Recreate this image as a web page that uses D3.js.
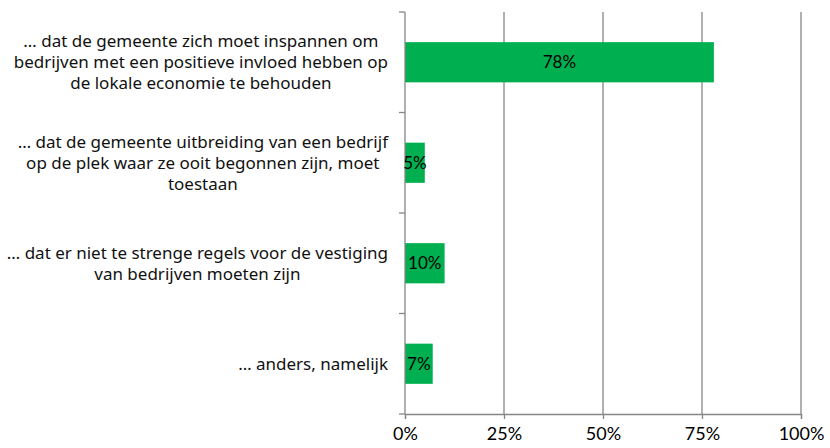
<!DOCTYPE html>
<html><head><meta charset="utf-8">
<script src="https://cdn.jsdelivr.net/npm/d3@7"></script>
<style>body{margin:0;background:#fff}svg{display:block}</style>
</head><body>
<script>
const categories = [
  "… dat de gemeente zich moet inspannen om\nbedrijven met een positieve invloed hebben op\nde lokale economie te behouden",
  "… dat de gemeente uitbreiding van een bedrijf\nop de plek waar ze ooit begonnen zijn, moet\ntoestaan",
  "… dat er niet te strenge regels voor de vestiging\nvan bedrijven moeten zijn",
  "… anders, namelijk"
];
const values = [78, 5, 10, 7];
const tickValues = [0, 25, 50, 75, 100];
const tickLabels = ["0%", "25%", "50%", "75%", "100%"];

const W = 830, H = 448;
const m = {left: 405, right: 29, top: 12, bottom: 34};
const svg = d3.select("body").append("svg").attr("width", W).attr("height", H);

const x = d3.scaleLinear().domain([0, 100]).range([m.left, W - m.right]);
const y = d3.scaleBand().domain(categories).range([m.top, H - m.bottom]).padding(0);
const grey = "#868686";

// gridlines
svg.append("g").selectAll("line").data(tickValues.slice(1)).join("line")
  .attr("x1", d => x(d)).attr("x2", d => x(d))
  .attr("y1", m.top).attr("y2", H - m.bottom)
  .attr("stroke", grey).attr("stroke-width", 1.3);

// bars
const step = y.step();
svg.append("g").selectAll("rect").data(values).join("rect")
  .attr("x", x(0))
  .attr("y", (d, i) => y(categories[i]) + step * 0.3)
  .attr("width", d => x(d) - x(0))
  .attr("height", step * 0.4)
  .attr("fill", "#00B050");

// x axis
const xAxis = d3.axisBottom(x).tickValues(tickValues)
  .tickFormat((d, i) => tickLabels[i]).tickSize(5).tickPadding(8);
const gx = svg.append("g").attr("transform", `translate(0,${H - m.bottom})`).call(xAxis);
gx.select(".domain").attr("stroke", grey).attr("stroke-width", 1.3);
gx.selectAll(".tick line").attr("stroke", grey).attr("stroke-width", 1.3);
gx.selectAll("text").attr("font-family", "Lato").attr("font-size", 18).attr("fill", "#000");

// y axis line and ticks at band edges
svg.append("line").attr("x1", x(0)).attr("x2", x(0)).attr("y1", m.top).attr("y2", H - m.bottom)
  .attr("stroke", grey).attr("stroke-width", 1.3);
const edges = categories.map(c => y(c)).concat([H - m.bottom]);
svg.append("g").selectAll("line").data(edges).join("line")
  .attr("x1", x(0) - 6).attr("x2", x(0)).attr("y1", d => d).attr("y2", d => d)
  .attr("stroke", grey).attr("stroke-width", 1.3);

// data labels
svg.append("g").selectAll("text").data(values).join("text")
  .attr("x", d => (x(0) + x(d)) / 2)
  .attr("y", (d, i) => y(categories[i]) + step / 2)
  .attr("dy", "0.36em")
  .attr("text-anchor", "middle")
  .attr("font-family", "Lato").attr("font-size", 17).attr("fill", "#000")
  .text(d => d + "%");

// category labels (centred lines within a block right-aligned to the axis)
const labelFont = "Noto Sans", labelSize = 17, lineH = 21, rightX = 388;
const measurer = svg.append("text").attr("font-family", labelFont).attr("font-size", labelSize);
function textW(s) { measurer.text(s); return measurer.node().getComputedTextLength(); }
const gl = svg.append("g");
categories.forEach(c => {
  const lines = c.split("\n");
  const bw = d3.max(lines, textW);
  const cx = rightX - bw / 2;
  const cy = y(c) + step / 2;
  const t = gl.append("text").attr("font-family", labelFont).attr("font-size", labelSize)
    .attr("fill", "#111").attr("text-anchor", "middle");
  lines.forEach((l, i) => {
    t.append("tspan").attr("x", cx)
      .attr("y", cy + (i - (lines.length - 1) / 2) * lineH)
      .attr("dy", "0.36em").text(l);
  });
});
measurer.remove();
</script>
</body></html>
